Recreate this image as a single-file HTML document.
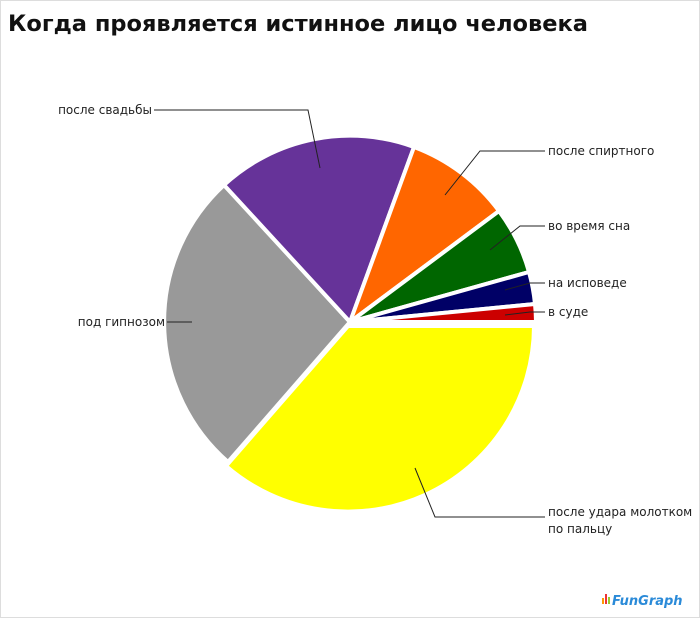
<!DOCTYPE html>
<html><head><meta charset="utf-8"><style>
body{margin:0;background:#fff;}
svg{display:block;font-family:"DejaVu Sans","Liberation Sans",sans-serif;}
</style></head><body>
<svg width="700" height="618" viewBox="0 0 700 618">
<rect x="0.5" y="0.5" width="699" height="617" fill="#fff" stroke="#ddd"/>
<text x="8" y="31" font-size="22" font-weight="bold" fill="#111" textLength="580" lengthAdjust="spacingAndGlyphs">Когда проявляется истинное лицо человека</text>
<g stroke="#fff" stroke-width="4" stroke-linejoin="round">
<path d="M348,326 L534,326 A186,186 0 0 1 226,466 Z" fill="#ffff00"/>
<path d="M350,322 L228,462 A186,186 0 0 1 224,185 Z" fill="#999999"/>
<path d="M350,322 L224,185 A186,186 0 0 1 414,147 Z" fill="#663399"/>
<path d="M350,322 L414,147 A186,186 0 0 1 499,211 Z" fill="#ff6600"/>
<path d="M350,322 L499,211 A186,186 0 0 1 529,272 Z" fill="#006600"/>
<path d="M350,322 L529,272 A186,186 0 0 1 535,304 Z" fill="#000066"/>
<path d="M350,322 L535,304 A186,186 0 0 1 536,322 Z" fill="#cc0000"/>
</g>
<g fill="none" stroke="#222" stroke-width="1">
<polyline points="154,110 308,110 320,168"/>
<polyline points="545,151 480,151 445,195"/>
<polyline points="545,226 520,226 490,250"/>
<polyline points="545,283 530,283 505,290"/>
<polyline points="545,312 530,312 505,315"/>
<polyline points="167,322 192,322"/>
<polyline points="545,517 435,517 415,468"/>
</g>
<g font-size="12" fill="#222">
<text x="152" y="114" text-anchor="end">после свадьбы</text>
<text x="165" y="326" text-anchor="end">под гипнозом</text>
<text x="548" y="155">после спиртного</text>
<text x="548" y="230">во время сна</text>
<text x="548" y="287">на исповеде</text>
<text x="548" y="316">в суде</text>
<text x="548" y="516">после удара молотком</text>
<text x="548" y="533">по пальцу</text>
</g>
<g>
<rect x="602" y="598" width="2" height="6" fill="#f90"/>
<rect x="605" y="594" width="2" height="10" fill="#e33"/>
<rect x="608" y="597" width="2" height="7" fill="#9c3"/>
<text x="612" y="605" font-size="13" font-weight="bold" fill="#2a8ad8" font-style="italic">FunGraph</text>
</g>
</svg>
</body></html>
